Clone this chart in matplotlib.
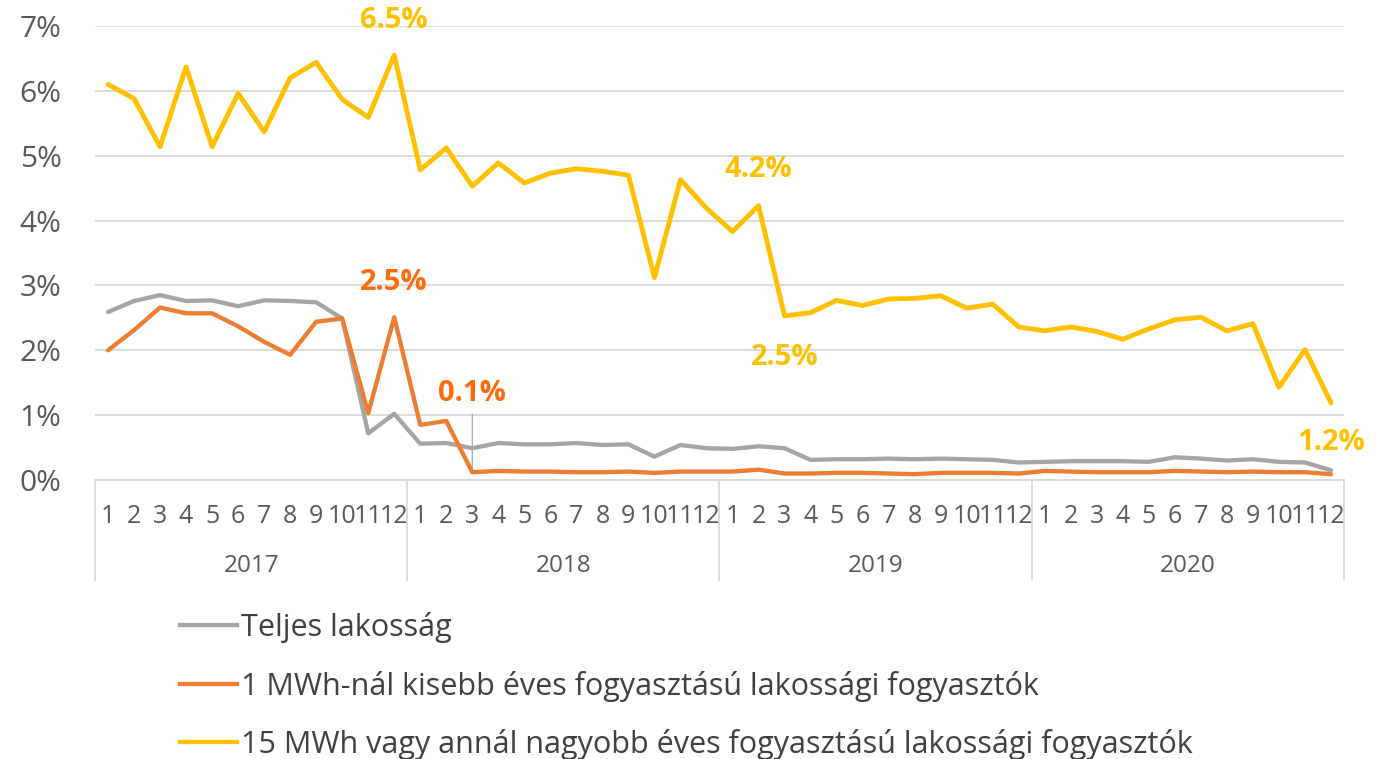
import numpy as np
import matplotlib
matplotlib.use("Agg")
import matplotlib.pyplot as plt
from matplotlib.lines import Line2D
from matplotlib.ticker import FuncFormatter, MultipleLocator
import matplotlib.transforms as mtransforms

plt.rcParams['font.family'] = ['Open Sans', 'DejaVu Sans']

years = ["2017", "2018", "2019", "2020"]
months = [str(m) for m in range(1, 13)]

teljes = [2.59, 2.76, 2.85, 2.76, 2.77, 2.68, 2.77, 2.76, 2.74, 2.49, 0.72, 1.02,
          0.56, 0.57, 0.49, 0.57, 0.55, 0.55, 0.57, 0.54, 0.55, 0.36, 0.54, 0.49,
          0.48, 0.52, 0.49, 0.31, 0.32, 0.32, 0.33, 0.32, 0.33, 0.32, 0.31, 0.27,
          0.28, 0.29, 0.29, 0.29, 0.28, 0.35, 0.33, 0.30, 0.32, 0.28, 0.27, 0.15]

kisebb = [2.00, 2.31, 2.66, 2.57, 2.57, 2.37, 2.13, 1.93, 2.44, 2.49, 1.03, 2.51,
          0.85, 0.91, 0.12, 0.14, 0.13, 0.13, 0.12, 0.12, 0.13, 0.11, 0.13, 0.13,
          0.13, 0.16, 0.10, 0.10, 0.11, 0.11, 0.10, 0.09, 0.11, 0.11, 0.11, 0.10,
          0.14, 0.13, 0.12, 0.12, 0.12, 0.14, 0.13, 0.12, 0.13, 0.12, 0.12, 0.09]

nagyobb = [6.10, 5.88, 5.14, 6.37, 5.14, 5.96, 5.37, 6.20, 6.44, 5.87, 5.59, 6.55,
           4.78, 5.12, 4.53, 4.89, 4.58, 4.73, 4.80, 4.76, 4.70, 3.12, 4.63, 4.19,
           3.83, 4.23, 2.53, 2.58, 2.77, 2.69, 2.79, 2.80, 2.84, 2.65, 2.71, 2.36,
           2.30, 2.36, 2.29, 2.17, 2.33, 2.47, 2.51, 2.30, 2.41, 1.43, 2.01, 1.19]

series_labels = ["Teljes lakosság",
                 "1 MWh-nál kisebb éves fogyasztású lakossági fogyasztók",
                 "15 MWh vagy annál nagyobb éves fogyasztású lakossági fogyasztók"]

# annotations: (series, index, text, pixel offset)
annotations = [("nagyobb", 11, "6.5%", 35),
               ("kisebb", 11, "2.5%", 35),
               ("kisebb", 14, "0.1%", 79),
               ("nagyobb", 25, "4.2%", 36),
               ("nagyobb", 26, "2.5%", -42),
               ("nagyobb", 47, "1.2%", -40)]

c_gray = "#A5A5A5"
c_orange = "#ED7D31"
c_yellow = "#FFC000"
c_orange_lbl = "#FF6A0D"
grid_c = "#D9D9D9"
txt_c = "#595959"

fig = plt.figure(figsize=(13.76, 7.59), dpi=100)
ax = fig.add_axes([95/1376, 1-480/759, (1344-95)/1376, (480-26)/759])

n = len(teljes)
x = np.arange(n)
ax.plot(x, teljes, color=c_gray, lw=3.1, solid_joinstyle='round', solid_capstyle='round', zorder=3)
ax.plot(x, kisebb, color=c_orange, lw=3.1, solid_joinstyle='round', solid_capstyle='round', zorder=4)
ax.plot(x, nagyobb, color=c_yellow, lw=3.5, solid_joinstyle='round', solid_capstyle='round', zorder=5)

ax.set_xlim(-0.5, n - 0.5)
ax.set_ylim(0, 7)
ax.yaxis.set_major_locator(MultipleLocator(1))
ax.yaxis.set_major_formatter(FuncFormatter(lambda v, p: f"{v:.0f}%"))
ax.grid(axis='y', color=grid_c, lw=1.3)
ax.set_axisbelow(True)
for s in ['top', 'right', 'left']:
    ax.spines[s].set_visible(False)
ax.spines['bottom'].set_color(grid_c)
ax.spines['bottom'].set_linewidth(1.3)
ax.tick_params(axis='y', length=0, labelsize=21.5, labelcolor=txt_c, pad=24)

ax.set_xticks(x)
ax.set_xticklabels(months * len(years), fontsize=18, color=txt_c)
ax.tick_params(axis='x', length=0, pad=17)

trans = mtransforms.blended_transform_factory(ax.transData, ax.transAxes)
ph = (480 - 26)
for i, yr in enumerate(years):
    ax.text(i * 12 + 5.5, -(566 - 480) / ph, yr, transform=trans, ha='center', va='center',
            fontsize=17.5, color=txt_c)
for i in range(len(years) + 1):
    ax.add_line(Line2D([i * 12 - 0.5, i * 12 - 0.5], [0, -(580 - 480) / ph], transform=trans,
                       color=grid_c, lw=1.3, clip_on=False))

data = {"nagyobb": (nagyobb, c_yellow), "kisebb": (kisebb, c_orange_lbl)}
for key, idx, label, off in annotations:
    vals, col = data[key]
    ax.annotate(label, xy=(idx, vals[idx]), xytext=(0, off * 0.72), textcoords='offset points',
                ha='center', va='center', fontsize=21, fontweight='bold', color=col,
                annotation_clip=False, zorder=6)
# leader line for 0.1%
ax.annotate("", xy=(14, kisebb[14]), xytext=(0, 58 * 0.72), textcoords='offset points',
            arrowprops=dict(arrowstyle='-', color='#A6A6A6', lw=0.9, shrinkA=0, shrinkB=0))

handles = [Line2D([], [], color=c, lw=3.1) for c in (c_gray, c_orange, c_yellow)]
fig.legend(handles, series_labels, loc='upper left', bbox_to_anchor=(180/1376, 1-612/759),
           frameon=False, fontsize=22, handlelength=1.85, handletextpad=0.15,
           labelspacing=0.9, labelcolor='#404040', borderaxespad=0, borderpad=0)

fig.savefig("out.png", dpi=100)
